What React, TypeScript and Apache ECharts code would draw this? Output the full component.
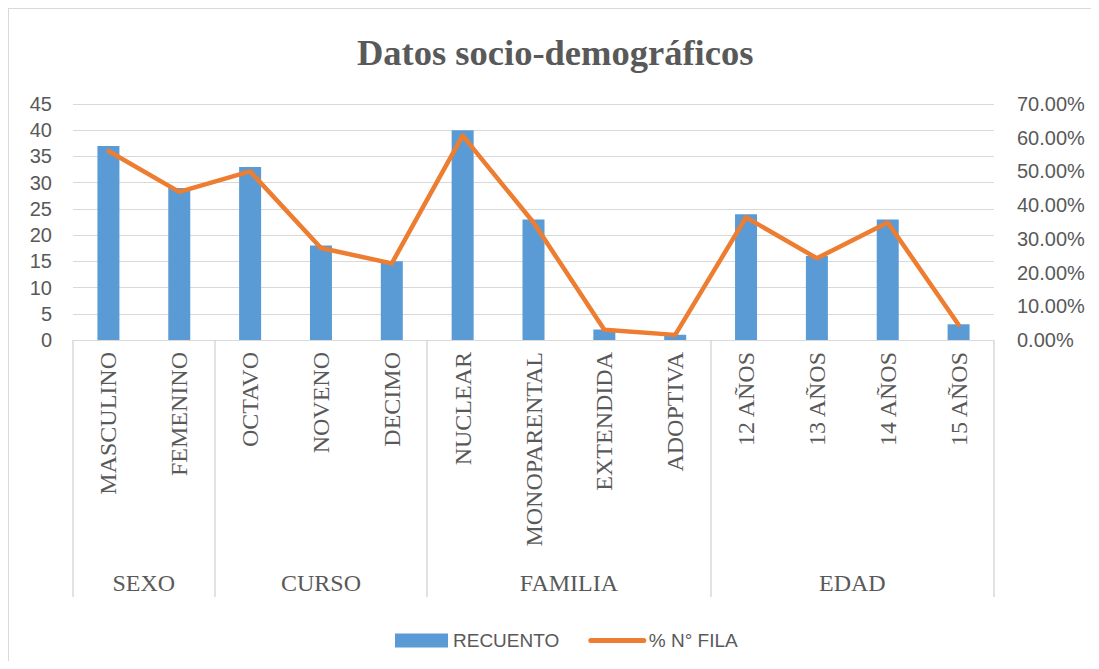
import React, { useEffect, useRef } from "react";
import * as echarts from "echarts";

const categories = [
  "MASCULINO", "FEMENINO",
  "OCTAVO", "NOVENO", "DECIMO",
  "NUCLEAR", "MONOPARENTAL", "EXTENDIDA", "ADOPTIVA",
  "12 AÑOS", "13 AÑOS", "14 AÑOS", "15 AÑOS",
];
const groupNames = ["SEXO", "CURSO", "FAMILIA", "EDAD"];
const groupSizes = [2, 3, 4, 4];
const recuento = [37, 29, 33, 18, 15, 40, 23, 2, 1, 24, 16, 23, 3];
const porcentaje = [0.5606, 0.4394, 0.5, 0.2727, 0.2273, 0.6061, 0.3485, 0.0303, 0.0152, 0.3636, 0.2424, 0.3485, 0.0455];
const leftTicks = { min: 0, max: 45, interval: 5 };
const rightTicks = { min: 0, max: 0.7, interval: 0.1 };

// Half-step positions along the category axis (0, 0.5, ..., n)
const nCat = categories.length;
const halfSlots = nCat * 2 + 1;
const groupAxisData: string[] = new Array(halfSlots).fill("");
const boundaryIdx = new Set<number>([0]);
const labelIdx = new Set<number>();
{
  let start = 0;
  groupSizes.forEach((s, gi) => {
    const center = start * 2 + s;
    groupAxisData[center] = groupNames[gi];
    labelIdx.add(center);
    start += s;
    boundaryIdx.add(start * 2);
  });
}

export default function App() {
  const ref = useRef<HTMLDivElement>(null);
  useEffect(() => {
    if (!ref.current) return;
    document.body.style.overflow = "hidden";
    const chart = echarts.init(ref.current, undefined, { renderer: "svg" });
    const grey = "#595959";
    const line = "#d9d9d9";
    chart.setOption({
      animation: false,
      backgroundColor: "#ffffff",
      title: {
        text: "Datos socio-demográficos",
        left: 343,
        top: 20,
        textStyle: {
          fontFamily: "Liberation Serif, serif",
          fontWeight: "bold",
          fontSize: 36.5,
          color: grey,
        },
      },
      legend: {
        left: 381,
        top: 617,
        itemWidth: 53,
        itemHeight: 14,
        itemGap: 29,
        textStyle: { fontFamily: "Liberation Sans, sans-serif", fontSize: 19, color: grey },
        data: [
          { name: "RECUENTO", icon: "rect" },
          { name: "% N° FILA", itemStyle: { opacity: 0 }, lineStyle: { width: 5, cap: "round" } },
        ],
      },
      grid: { left: 64, top: 95, width: 921, height: 236, containLabel: false },
      xAxis: [
        {
          type: "category",
          data: categories,
          position: "bottom",
          axisLine: { show: true, lineStyle: { color: line, width: 1 } },
          axisTick: { show: false },
          axisLabel: {
            rotate: 90,
            margin: 12,
            interval: 0,
            fontFamily: "Liberation Serif, serif",
            fontSize: 24,
            color: grey,
          },
        },
        {
          type: "category",
          data: groupAxisData,
          boundaryGap: false,
          position: "bottom",
          axisLine: { show: false },
          axisTick: {
            show: true,
            length: 257,
            interval: (i: number) => boundaryIdx.has(i),
            lineStyle: { color: line, width: 1.5 },
          },
          axisLabel: {
            interval: (i: number) => labelIdx.has(i),
            margin: 231,
            fontFamily: "Liberation Serif, serif",
            fontSize: 24,
            color: grey,
          },
        },
      ],
      yAxis: [
        {
          type: "value",
          ...leftTicks,
          axisLine: { show: false },
          axisTick: { show: false },
          splitLine: { lineStyle: { color: line, width: 1 } },
          axisLabel: {
            margin: 21,
            fontFamily: "Liberation Sans, sans-serif",
            fontSize: 20,
            color: grey,
          },
        },
        {
          type: "value",
          ...rightTicks,
          axisLine: { show: false },
          axisTick: { show: false },
          splitLine: { show: false },
          axisLabel: {
            margin: 23,
            fontFamily: "Liberation Sans, sans-serif",
            fontSize: 20,
            color: grey,
            formatter: (v: number) => (v * 100).toFixed(2) + "%",
          },
        },
      ],
      series: [
        {
          name: "RECUENTO",
          type: "bar",
          xAxisIndex: 0,
          yAxisIndex: 0,
          data: recuento,
          barWidth: 22,
          itemStyle: { color: "#5b9bd5" },
        },
        {
          name: "% N° FILA",
          type: "line",
          xAxisIndex: 0,
          yAxisIndex: 1,
          data: porcentaje,
          symbol: "none",
          showSymbol: false,
          lineStyle: { color: "#ed7d31", width: 4.5, cap: "round", join: "round" },
          itemStyle: { color: "#ed7d31" },
        },
      ],
    });
    return () => chart.dispose();
  }, []);
  return (
    <div
      style={{
        width: 1091,
        height: 653,
        boxSizing: "border-box",
        borderLeft: "1px solid #d9d9d9",
        borderTop: "1px solid #d9d9d9",
        overflow: "hidden",
      }}
    >
      <div ref={ref} style={{ width: 1090, height: 652 }} />
    </div>
  );
}
